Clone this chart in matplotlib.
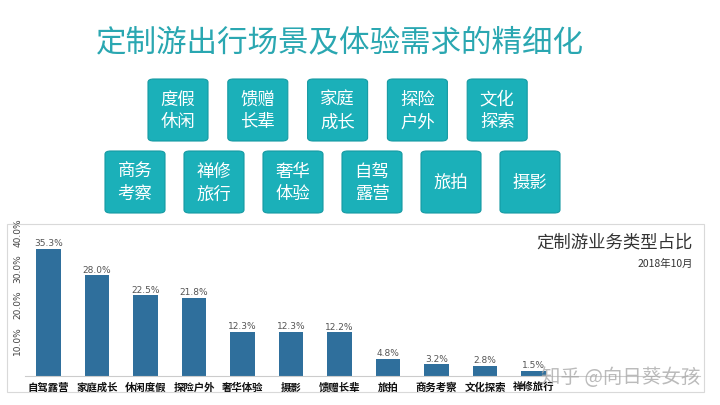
import matplotlib.pyplot as plt
from matplotlib.patches import FancyBboxPatch, Rectangle

plt.rcParams['font.family'] = ['Noto Sans CJK SC', 'DejaVu Sans']

# Data
categories = ['自驾露营', '家庭成长', '休闲度假', '探险户外', '奢华体验', '摄影',
              '馈赠长辈', '旅拍', '商务考察', '文化探索', '禅修旅行']
shares = [35.3, 28.0, 22.5, 21.8, 12.3, 12.3, 12.2, 4.8, 3.2, 2.8, 1.5]
y_ticks = [10, 20, 30, 40]
row1_tags = ['度假\n休闲', '馈赠\n长辈', '家庭\n成长', '探险\n户外', '文化\n探索']
row2_tags = ['商务\n考察', '禅修\n旅行', '奢华\n体验', '自驾\n露营', '旅拍', '摄影']

W, H = 720, 406
TEAL = '#1bb0b9'
BAR = '#2f6f9c'

fig = plt.figure(figsize=(W / 100, H / 100), dpi=100)
fig.patch.set_facecolor('white')


def fx(px):
    return px / W


def fy(py):
    return 1 - py / H


# main title
fig.text(fx(340), fy(43), '定制游出行场景及体验需求的精细化', ha='center', va='center',
         fontsize=22, color='#2aa7b1')

# tag boxes
def draw_tags(tags, x0, top, step):
    for i, t in enumerate(tags):
        left = x0 + i * step
        box = FancyBboxPatch((fx(left), fy(top + 62)), fx(60), 62 / H,
                             boxstyle='round,pad=0,rounding_size=0.008',
                             transform=fig.transFigure, facecolor=TEAL,
                             edgecolor='#159aa3', linewidth=0.8)
        fig.patches.append(box)
        fig.text(fx(left + 30), fy(top + 31), t, ha='center', va='center',
                 fontsize=12.5, color='white', linespacing=1.35)


draw_tags(row1_tags, 148, 80, 79.8)
draw_tags(row2_tags, 105, 152, 79)

# chart frame (behind the axes)
frame = Rectangle((fx(7), fy(393)), fx(697), (393 - 225) / H,
                  transform=fig.transFigure, facecolor='white',
                  edgecolor='#d9d9d9', linewidth=0.8, zorder=-1)
fig.patches.append(frame)

# bar chart axes
step = 48.5
left_px, right_px, base_px, top_px = 25, 700, 377, 233
ax = fig.add_axes([fx(left_px), fy(base_px), fx(right_px - left_px), (base_px - top_px) / H])
ax.set_zorder(2)
ax.set_facecolor('none')
xs = list(range(len(categories)))
ax.bar(xs, shares, width=0.5, color=BAR)
for x, v in zip(xs, shares):
    ax.text(x, v + 0.4, f'{v:.1f}%', ha='center', va='bottom', fontsize=6.5,
            color='#555555', family=['DejaVu Sans'])
ax.set_xlim(-(48.5 - left_px) / step, (right_px - 48.5) / step)
ax.set_ylim(0, 40)
ax.set_xticks(xs)
ax.set_xticklabels(categories, fontsize=7.5, fontweight='bold', color='#111111')
ax.set_yticks(y_ticks)
ax.set_yticklabels([f'{t:.1f}%' for t in y_ticks], rotation=90, va='center',
                   fontsize=6.5, color='#444444', family=['DejaVu Sans'])
ax.tick_params(axis='x', length=0, pad=4)
ax.tick_params(axis='y', length=0, pad=2)
for s in ['top', 'right', 'left']:
    ax.spines[s].set_visible(False)
ax.spines['bottom'].set_color('#cccccc')
ax.spines['bottom'].set_linewidth(0.8)

# chart title inside frame
fig.text(fx(693), fy(243), '定制游业务类型占比', ha='right', va='center',
         fontsize=12.5, color='#333333')
fig.text(fx(693), fy(264), '2018年10月', ha='right', va='center',
         fontsize=7.5, color='#333333')

# watermark
fig.text(fx(700), fy(378), '知乎 @向日葵女孩', ha='right', va='center',
         fontsize=14, color='#aaaaaa', alpha=0.8, zorder=3)

fig.savefig('out.png', dpi=100)
